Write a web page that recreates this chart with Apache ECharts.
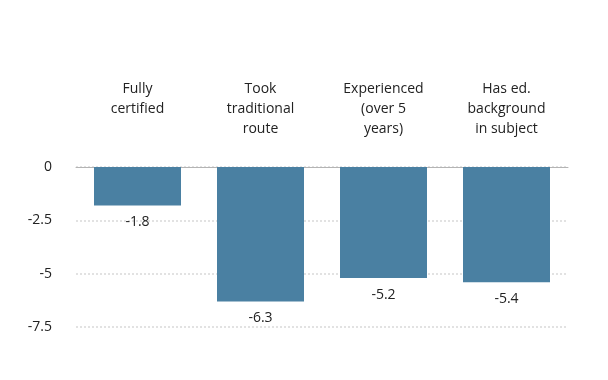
<!DOCTYPE html>
<html><head><meta charset="utf-8">
<script src="https://cdn.jsdelivr.net/npm/echarts@6/dist/echarts.min.js"></script>
<style>html,body{margin:0;padding:0;background:#fff}#c{width:608px;height:380px}</style>
</head><body><div id="c"></div>
<script>
var categories = ["Fully\ncertified", "Took\ntraditional\nroute", "Experienced\n(over 5\nyears)", "Has ed.\nbackground\nin subject"];
var values = [-1.8, -6.3, -5.2, -5.4];
var yTicks = [0, -2.5, -5, -7.5];

var chart = echarts.init(document.getElementById('c'));
chart.setOption({
  animation: false,
  textStyle: {fontFamily: '"Open Sans", sans-serif'},
  grid: {left: 76, right: 40, top: 167, bottom: 53},
  xAxis: {
    type: 'category',
    position: 'top',
    data: categories,
    axisLine: {show: true, lineStyle: {color: '#b4b4b4', width: 1}},
    axisTick: {show: false},
    axisLabel: {
      color: '#222', fontSize: 14, lineHeight: 20,
      verticalAlign: 'top', margin: 88, interval: 0
    }
  },
  yAxis: {
    type: 'value',
    min: yTicks[yTicks.length - 1], max: yTicks[0], interval: 2.5,
    axisLine: {show: false},
    axisTick: {show: false},
    axisLabel: {color: '#222', fontSize: 14, margin: 24},
    splitLine: {lineStyle: {color: '#e2e2e2', width: 2, type: [2, 2]}}
  },
  series: [{
    type: 'bar',
    data: values,
    barWidth: 87,
    itemStyle: {color: '#4a80a2'},
    label: {show: true, position: 'bottom', distance: 10, color: '#222', fontSize: 14}
  }]
});
</script></body></html>
